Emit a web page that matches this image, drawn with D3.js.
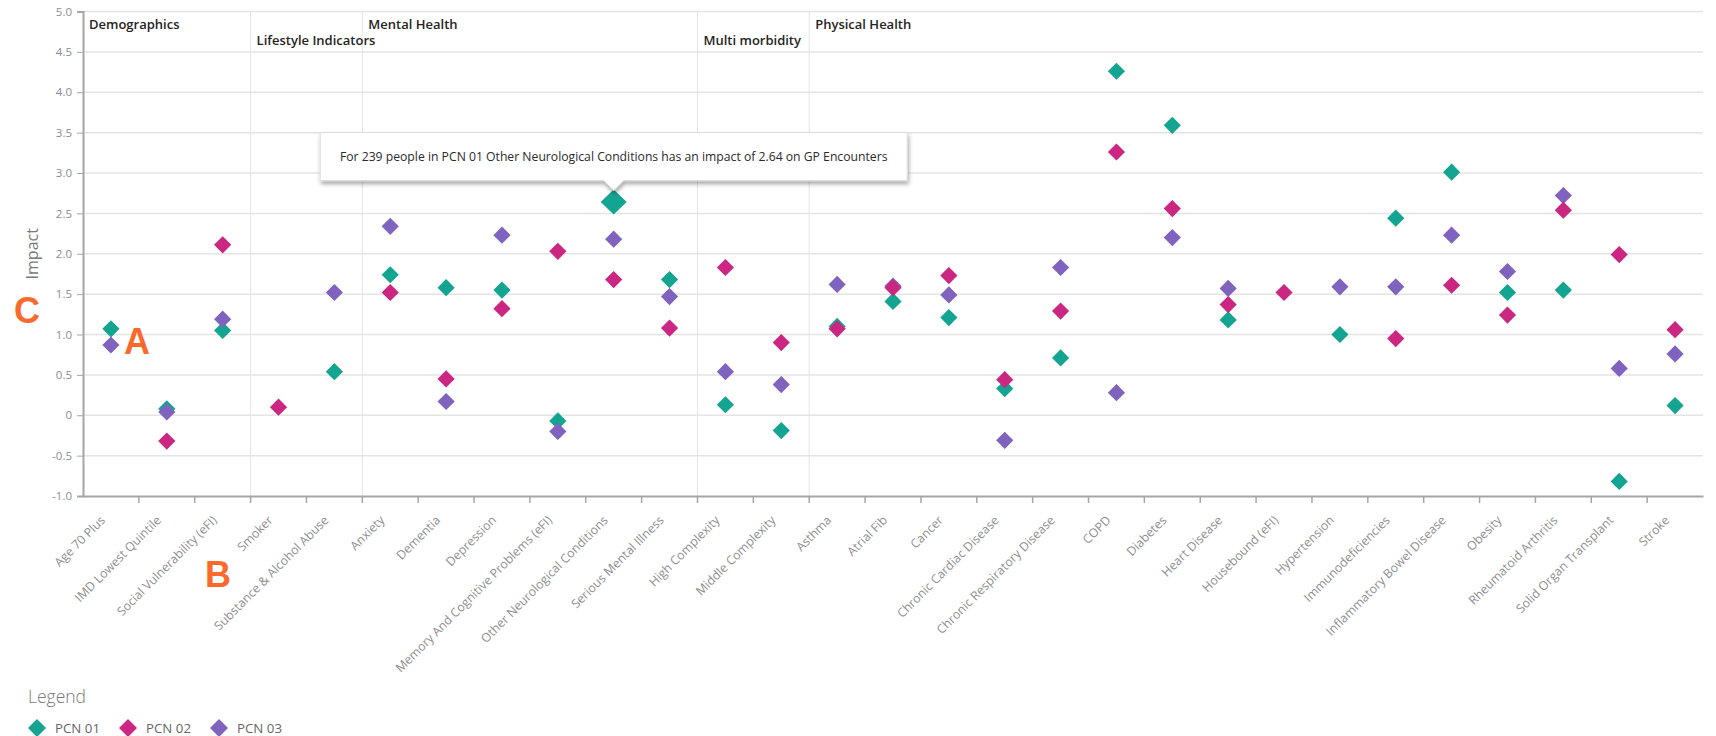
<!DOCTYPE html>
<html>
<head>
<meta charset="utf-8">
<script src="https://cdn.jsdelivr.net/npm/d3@7"></script>
<style>
  html, body { margin: 0; padding: 0; background: #fff; }
  svg { display: block; font-family: "Open Sans", "Noto Sans", sans-serif; }
</style>
</head>
<body>
<svg id="chart" width="1716" height="736"></svg>
<script>
// Condition categories along the x axis
const categories = [
  "Age 70 Plus", "IMD Lowest Quintile", "Social Vulnerability (eFI)",
  "Smoker", "Substance & Alcohol Abuse",
  "Anxiety", "Dementia", "Depression", "Memory And Cognitive Problems (eFI)",
  "Other Neurological Conditions", "Serious Mental Illness",
  "High Complexity", "Middle Complexity",
  "Asthma", "Atrial Fib", "Cancer", "Chronic Cardiac Disease",
  "Chronic Respiratory Disease", "COPD", "Diabetes", "Heart Disease",
  "Housebound (eFI)", "Hypertension", "Immunodeficiencies",
  "Inflammatory Bowel Disease", "Obesity", "Rheumatoid Arthritis",
  "Solid Organ Transplant", "Stroke"
];

// Category groups and how many consecutive categories each covers
const groupNames = ["Demographics", "Lifestyle Indicators", "Mental Health", "Multi morbidity", "Physical Health"];
const groupCounts = [3, 2, 6, 2, 16];

// Impact on GP encounters per PCN (null = no value)
const pcn01 = [1.07, 0.08, 1.05, null, 0.54, 1.74, 1.58, 1.55, -0.07, 2.64, 1.68, 0.13, -0.19,
               1.10, 1.41, 1.21, 0.33, 0.71, 4.26, 3.59, 1.18, null, 1.00, 2.44, 3.01, 1.52, 1.55, -0.82, 0.12];
const pcn02 = [null, -0.32, 2.11, 0.10, null, 1.52, 0.45, 1.32, 2.03, 1.68, 1.08, 1.83, 0.90,
               1.07, 1.58, 1.73, 0.44, 1.29, 3.26, 2.56, 1.37, 1.52, null, 0.95, 1.61, 1.24, 2.54, 1.99, 1.06];
const pcn03 = [0.87, 0.04, 1.19, null, 1.52, 2.34, 0.17, 2.23, -0.20, 2.18, 1.47, 0.54, 0.38,
               1.62, 1.60, 1.49, -0.31, 1.83, 0.28, 2.20, 1.57, null, 1.59, 1.59, 2.23, 1.78, 2.72, 0.58, 0.76];

const seriesNames = ["PCN 01", "PCN 02", "PCN 03"];
const seriesColors = ["#13a591", "#cb2682", "#7f63bf"];

// y axis ticks
const yTicks = [-1, -0.5, 0, 0.5, 1, 1.5, 2, 2.5, 3, 3.5, 4, 4.5, 5];

// Highlighted point with its tooltip
const focus = { series: "PCN 01", category: "Other Neurological Conditions", people: 239, measure: "GP Encounters" };

// Callout letters placed over the chart
const callouts = [
  { text: "C", x: 14, y: 323 },
  { text: "A", x: 124, y: 354 },
  { text: "B", x: 205, y: 587 }
];

const svg = d3.select("#chart");
const plotLeft = 83, plotRight = 1703, plotTop = 11.5, plotBottom = 496;

const x = d3.scaleBand().domain(categories).range([plotLeft, plotRight]).padding(0);
const y = d3.scaleLinear().domain([-1, 5]).range([plotBottom, plotTop]);

// horizontal gridlines
svg.append("g").selectAll("line").data(yTicks.filter(d => d > -1)).join("line")
  .attr("x1", plotLeft).attr("x2", plotRight)
  .attr("y1", d => y(d)).attr("y2", d => y(d))
  .attr("stroke", "#e4e4e4").attr("stroke-width", 1.5);

// group separators and headers
let start = 0;
const groups = groupNames.map((name, i) => {
  const g = { name, first: categories[start], row: i % 2, index: i };
  start += groupCounts[i];
  return g;
});
svg.append("g").selectAll("line").data(groups.slice(1)).join("line")
  .attr("x1", d => x(d.first)).attr("x2", d => x(d.first))
  .attr("y1", plotTop).attr("y2", plotBottom)
  .attr("stroke", "#e4e4e4").attr("stroke-width", 1);
svg.append("g").selectAll("text").data(groups).join("text")
  .attr("x", d => x(d.first) + 6)
  .attr("y", d => d.row === 0 ? 29 : 44.5)
  .attr("font-size", 13).attr("font-weight", 600).attr("fill", "#252423")
  .text(d => d.name);

// y axis
const yAxis = svg.append("g").attr("transform", `translate(${plotLeft},0)`)
  .call(d3.axisLeft(y).tickValues(yTicks).tickSize(6).tickPadding(5)
    .tickFormat(d => d === 0 ? "0" : d.toFixed(1)));
yAxis.select(".domain").attr("stroke", "#a6a6a6").attr("stroke-width", 2);
yAxis.selectAll(".tick line").attr("stroke", "#a6a6a6");
yAxis.selectAll(".tick text").attr("fill", "#8a8d93").attr("font-size", 11.5)
  .attr("font-family", "\"Open Sans\", sans-serif");

// x axis
const xAxis = svg.append("g").attr("transform", `translate(0,${plotBottom})`)
  .call(d3.axisBottom(x).tickSize(0).tickFormat(""));
xAxis.select(".domain").attr("stroke", "#a6a6a6").attr("stroke-width", 2);
xAxis.selectAll(".tick").remove();
svg.append("g").selectAll("line").data(categories.slice(1)).join("line")
  .attr("x1", d => x(d)).attr("x2", d => x(d))
  .attr("y1", plotBottom).attr("y2", plotBottom + 7)
  .attr("stroke", "#a6a6a6").attr("stroke-width", 1.5);
svg.append("g").selectAll("text").data(categories).join("text")
  .attr("transform", d => `translate(${x(d) + x.bandwidth() / 2 - 5},${plotBottom + 25}) rotate(-45)`)
  .attr("text-anchor", "end")
  .attr("font-size", 12.3).attr("fill", "#8f8f8f")
  .text(d => d);

// y axis title
svg.append("text")
  .attr("transform", `translate(38,${(plotTop + plotBottom) / 2}) rotate(-90)`)
  .attr("text-anchor", "middle")
  .attr("font-size", 16).attr("fill", "#7a7a7a")
  .text("Impact");

// points
const diamond = (w, h) => `M0,${-h}L${w},0L0,${h}L${-w},0Z`;
const seriesValues = { "PCN 01": pcn01, "PCN 02": pcn02, "PCN 03": pcn03 };
const drawOrder = ["PCN 01", "PCN 03", "PCN 02"];
const points = [];
drawOrder.forEach(s => {
  seriesValues[s].forEach((v, i) => {
    if (v === null) return;
    points.push({ series: s, category: categories[i], value: v,
      focus: s === focus.series && categories[i] === focus.category });
  });
});
points.sort((a, b) => (a.focus ? 1 : 0) - (b.focus ? 1 : 0));
svg.append("g").selectAll("path").data(points).join("path")
  .attr("transform", d => `translate(${x(d.category) + x.bandwidth() / 2},${y(d.value)})`)
  .attr("d", d => d.focus ? diamond(13, 12.5) : diamond(8.6, 8.6))
  .attr("fill", d => seriesColors[seriesNames.indexOf(d.series)]);

// tooltip for the highlighted point
const fp = points.find(p => p.focus);
const fx = x(fp.category) + x.bandwidth() / 2;
const fy = y(fp.value);
const defs = svg.append("defs");
const filt = defs.append("filter").attr("id", "tipShadow")
  .attr("x", "-10%").attr("y", "-30%").attr("width", "120%").attr("height", "180%");
filt.append("feDropShadow").attr("dx", 1).attr("dy", 3).attr("stdDeviation", 2)
  .attr("flood-color", "#000").attr("flood-opacity", 0.35);
const tipText = `For ${focus.people} people in ${fp.series} ${fp.category} has an impact of ${fp.value.toFixed(2)} on ${focus.measure}`;
const tip = svg.append("g");
const tipW = 587, tipH = 48, tipBottom = fy - 21.5;
const tl = fx - tipW / 2, tt = tipBottom - tipH;
tip.append("path")
  .attr("d", `M${tl},${tt}H${tl + tipW}V${tipBottom}H${fx + 10}L${fx},${tipBottom + 10}L${fx - 10},${tipBottom}H${tl}Z`)
  .attr("fill", "#fff").attr("stroke", "#dcdcdc").attr("stroke-width", 1)
  .attr("filter", "url(#tipShadow)");
tip.append("text")
  .attr("x", fx).attr("y", tt + tipH / 2 + 4.5)
  .attr("text-anchor", "middle")
  .attr("font-size", 12.2).attr("fill", "#2b2b2b")
  .text(tipText);

// legend
svg.append("text").attr("x", 28).attr("y", 703)
  .attr("font-size", 17.5).attr("fill", "#7a7a7a").attr("font-weight", 300)
  .text("Legend");
const legendX = [37, 128, 219];
const leg = svg.append("g").selectAll("g").data(seriesNames).join("g")
  .attr("transform", (d, i) => `translate(${legendX[i]},728)`);
leg.append("path").attr("d", diamond(9, 9))
  .attr("fill", (d, i) => seriesColors[i]);
leg.append("text").attr("x", 18).attr("y", 4.5)
  .attr("font-size", 13.3).attr("fill", "#666")
  .text(d => d);

// callout letters
svg.append("g").selectAll("text").data(callouts).join("text")
  .attr("x", d => d.x).attr("y", d => d.y)
  .attr("font-family", "\"Liberation Sans\", Arial, sans-serif")
  .attr("font-weight", 700).attr("font-size", 36).attr("fill", "#fb6a2c")
  .text(d => d.text);
</script>
</body>
</html>
